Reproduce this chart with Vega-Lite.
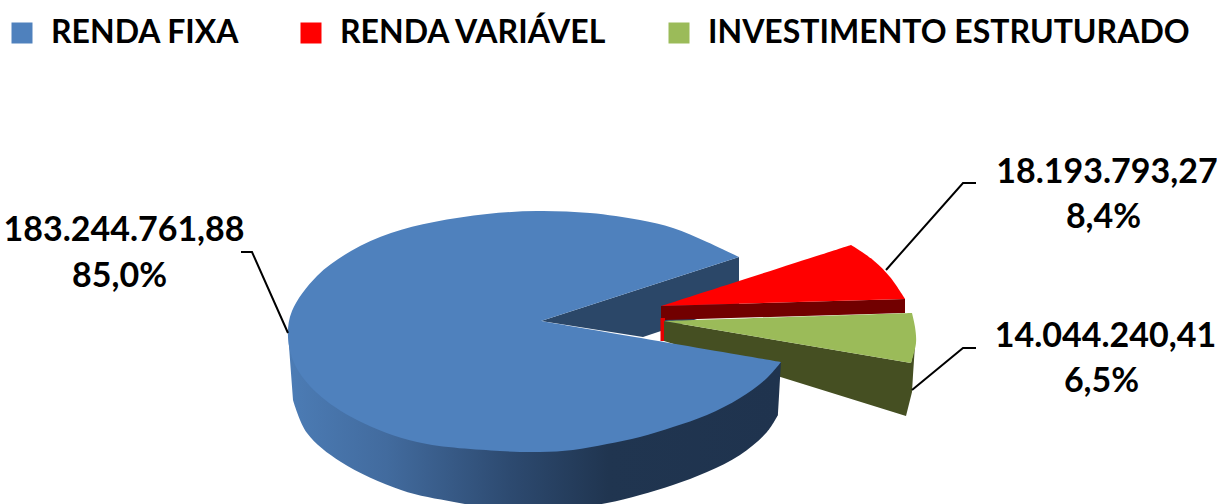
{"$schema":"https://vega.github.io/schema/vega-lite/v6.json","width":1217,"height":504,"padding":0,"autosize":{"type":"none"},"background":"white","config":{"view":{"stroke":null},"font":"Lato"},
"datasets":{"formas":[
{"forma":"cunha","p":1,"x":541,"y":321},{"forma":"cunha","p":2,"x":739,"y":257},{"forma":"cunha","p":3,"x":739,"y":305},{"forma":"cunha","p":4,"x":643,"y":337},
{"forma":"lado_var","p":1,"x":661,"y":306},{"forma":"lado_var","p":2,"x":905,"y":299},{"forma":"lado_var","p":3,"x":905,"y":313},{"forma":"lado_var","p":4,"x":665,"y":320},{"forma":"lado_var","p":5,"x":661,"y":320},
{"forma":"fresta_var","p":1,"x":660.5,"y":318},{"forma":"fresta_var","p":2,"x":665,"y":318},{"forma":"fresta_var","p":3,"x":665,"y":341},{"forma":"fresta_var","p":4,"x":660.5,"y":341},
{"forma":"topo_var","serie":"RENDA VARIÁVEL","p":1,"x":661,"y":306},{"forma":"topo_var","serie":"RENDA VARIÁVEL","p":2,"x":661,"y":306},{"forma":"topo_var","serie":"RENDA VARIÁVEL","p":3,"x":851,"y":245},{"forma":"topo_var","serie":"RENDA VARIÁVEL","p":4,"x":851,"y":245},{"forma":"topo_var","serie":"RENDA VARIÁVEL","p":5,"x":873,"y":260},{"forma":"topo_var","serie":"RENDA VARIÁVEL","p":6,"x":890,"y":277},{"forma":"topo_var","serie":"RENDA VARIÁVEL","p":7,"x":905,"y":299},{"forma":"topo_var","serie":"RENDA VARIÁVEL","p":8,"x":905,"y":299},
{"forma":"lado_est","p":1,"x":664,"y":321},{"forma":"lado_est","p":2,"x":911,"y":363},{"forma":"lado_est","p":3,"x":915,"y":345},{"forma":"lado_est","p":4,"x":913,"y":375},{"forma":"lado_est","p":5,"x":912,"y":392},{"forma":"lado_est","p":6,"x":906,"y":416},{"forma":"lado_est","p":7,"x":664,"y":341},
{"forma":"topo_est","serie":"INVESTIMENTO ESTRUTURADO","p":1,"x":664,"y":321},{"forma":"topo_est","serie":"INVESTIMENTO ESTRUTURADO","p":2,"x":664,"y":321},{"forma":"topo_est","serie":"INVESTIMENTO ESTRUTURADO","p":3,"x":912,"y":313},{"forma":"topo_est","serie":"INVESTIMENTO ESTRUTURADO","p":4,"x":912,"y":313},{"forma":"topo_est","serie":"INVESTIMENTO ESTRUTURADO","p":5,"x":915,"y":327},{"forma":"topo_est","serie":"INVESTIMENTO ESTRUTURADO","p":6,"x":916,"y":343},{"forma":"topo_est","serie":"INVESTIMENTO ESTRUTURADO","p":7,"x":911,"y":363},{"forma":"topo_est","serie":"INVESTIMENTO ESTRUTURADO","p":8,"x":911,"y":363},
{"forma":"lado_fixa","p":1,"x":288,"y":333},{"forma":"lado_fixa","p":2,"x":288,"y":333},{"forma":"lado_fixa","p":3,"x":781,"y":362},{"forma":"lado_fixa","p":4,"x":781,"y":362},{"forma":"lado_fixa","p":5,"x":778,"y":415},{"forma":"lado_fixa","p":6,"x":778,"y":415},{"forma":"lado_fixa","p":7,"x":767,"y":432},{"forma":"lado_fixa","p":8,"x":740,"y":455},{"forma":"lado_fixa","p":9,"x":707,"y":472},{"forma":"lado_fixa","p":10,"x":673,"y":485},{"forma":"lado_fixa","p":11,"x":640,"y":495},{"forma":"lado_fixa","p":12,"x":607,"y":503},{"forma":"lado_fixa","p":13,"x":550,"y":511},{"forma":"lado_fixa","p":14,"x":500,"y":509},{"forma":"lado_fixa","p":15,"x":454,"y":502},{"forma":"lado_fixa","p":16,"x":401,"y":490},{"forma":"lado_fixa","p":18,"x":341,"y":462},{"forma":"lado_fixa","p":20,"x":307,"y":433},{"forma":"lado_fixa","p":22,"x":293,"y":400},{"forma":"lado_fixa","p":23,"x":293,"y":400},
{"forma":"topo_fixa","serie":"RENDA FIXA","p":1,"x":541,"y":321},{"forma":"topo_fixa","serie":"RENDA FIXA","p":2,"x":541,"y":321},{"forma":"topo_fixa","serie":"RENDA FIXA","p":3,"x":781,"y":362},{"forma":"topo_fixa","serie":"RENDA FIXA","p":4,"x":781,"y":362},{"forma":"topo_fixa","serie":"RENDA FIXA","p":5,"x":767,"y":378},{"forma":"topo_fixa","serie":"RENDA FIXA","p":6,"x":740,"y":398},{"forma":"topo_fixa","serie":"RENDA FIXA","p":7,"x":707,"y":415},{"forma":"topo_fixa","serie":"RENDA FIXA","p":8,"x":673,"y":427},{"forma":"topo_fixa","serie":"RENDA FIXA","p":9,"x":640,"y":437},{"forma":"topo_fixa","serie":"RENDA FIXA","p":10,"x":607,"y":444},{"forma":"topo_fixa","serie":"RENDA FIXA","p":11,"x":573,"y":450},{"forma":"topo_fixa","serie":"RENDA FIXA","p":12,"x":540,"y":452},{"forma":"topo_fixa","serie":"RENDA FIXA","p":13,"x":500,"y":451},{"forma":"topo_fixa","serie":"RENDA FIXA","p":15,"x":417,"y":442},{"forma":"topo_fixa","serie":"RENDA FIXA","p":17,"x":357,"y":420},{"forma":"topo_fixa","serie":"RENDA FIXA","p":19,"x":317,"y":393},{"forma":"topo_fixa","serie":"RENDA FIXA","p":21,"x":295,"y":365},{"forma":"topo_fixa","serie":"RENDA FIXA","p":22,"x":288,"y":337},{"forma":"topo_fixa","serie":"RENDA FIXA","p":23,"x":292,"y":311},{"forma":"topo_fixa","serie":"RENDA FIXA","p":25,"x":317,"y":276},{"forma":"topo_fixa","serie":"RENDA FIXA","p":27,"x":351,"y":251},{"forma":"topo_fixa","serie":"RENDA FIXA","p":29,"x":391,"y":233},{"forma":"topo_fixa","serie":"RENDA FIXA","p":31,"x":434,"y":222},{"forma":"topo_fixa","serie":"RENDA FIXA","p":32,"x":487,"y":214},{"forma":"topo_fixa","serie":"RENDA FIXA","p":33,"x":537,"y":211},{"forma":"topo_fixa","serie":"RENDA FIXA","p":34,"x":590,"y":213},{"forma":"topo_fixa","serie":"RENDA FIXA","p":35,"x":640,"y":220},{"forma":"topo_fixa","serie":"RENDA FIXA","p":36,"x":673,"y":228},{"forma":"topo_fixa","serie":"RENDA FIXA","p":37,"x":707,"y":242},{"forma":"topo_fixa","serie":"RENDA FIXA","p":38,"x":739,"y":257},{"forma":"topo_fixa","serie":"RENDA FIXA","p":39,"x":739,"y":257}
],
"guias":[
{"serie":"RENDA FIXA","p":1,"x":241,"y":252},{"serie":"RENDA FIXA","p":2,"x":252,"y":252},{"serie":"RENDA FIXA","p":3,"x":288,"y":333},
{"serie":"RENDA VARIÁVEL","p":1,"x":976,"y":183},{"serie":"RENDA VARIÁVEL","p":2,"x":963,"y":183},{"serie":"RENDA VARIÁVEL","p":3,"x":886,"y":270},
{"serie":"INVESTIMENTO ESTRUTURADO","p":1,"x":976,"y":348},{"serie":"INVESTIMENTO ESTRUTURADO","p":2,"x":963,"y":348},{"serie":"INVESTIMENTO ESTRUTURADO","p":3,"x":912,"y":390}
],
"rotulos":[
{"serie":"RENDA FIXA","texto":"183.244.761,88","x":124,"y":231},{"serie":"RENDA FIXA","texto":"85,0%","x":119.5,"y":277},
{"serie":"RENDA VARIÁVEL","texto":"18.193.793,27","x":1107,"y":173},{"serie":"RENDA VARIÁVEL","texto":"8,4%","x":1103.5,"y":218},
{"serie":"INVESTIMENTO ESTRUTURADO","texto":"14.044.240,41","x":1105.5,"y":337},{"serie":"INVESTIMENTO ESTRUTURADO","texto":"6,5%","x":1101.5,"y":382}
]},
"encoding":{"x":{"field":"x","type":"quantitative","axis":null,"scale":{"domain":[0,1217],"nice":false,"zero":false}},"y":{"field":"y","type":"quantitative","axis":null,"scale":{"domain":[504,0],"nice":false,"zero":false}},"order":{"field":"p","type":"quantitative"}},
"layer":[
{"data":{"name":"formas"},"transform":[{"filter":"datum.forma==='cunha'"}],"mark":{"type":"line","fill":"#2b4768","strokeWidth":0}},
{"data":{"name":"formas"},"transform":[{"filter":"datum.forma==='lado_var'"}],"mark":{"type":"line","fill":"#720000","strokeWidth":0}},
{"data":{"name":"formas"},"transform":[{"filter":"datum.forma==='fresta_var'"}],"mark":{"type":"line","fill":"#e60000","strokeWidth":0}},
{"data":{"name":"formas"},"transform":[{"filter":"datum.forma==='topo_var'"}],"mark":{"type":"line","strokeWidth":0,"interpolate":"catmull-rom"},"encoding":{"fill":{"field":"serie","type":"nominal","scale":{"domain":["RENDA FIXA","RENDA VARIÁVEL","INVESTIMENTO ESTRUTURADO"],"range":["#4f81bd","#ff0000","#9bbb59"]},"legend":{"title":null,"orient":"none","legendX":6,"legendY":17,"direction":"horizontal","columns":3,"columnPadding":55,"symbolType":"square","symbolSize":441,"symbolStrokeWidth":0,"symbolOpacity":1,"labelFontSize":32,"labelFont":"Lato","labelFontWeight":"bold","labelColor":"#000000","labelOffset":13,"labelLimit":600,"padding":0}}}},
{"data":{"name":"formas"},"transform":[{"filter":"datum.forma==='lado_est'"}],"mark":{"type":"line","fill":"#454f22","strokeWidth":0}},
{"data":{"name":"formas"},"transform":[{"filter":"datum.forma==='topo_est'"}],"mark":{"type":"line","strokeWidth":0,"interpolate":"catmull-rom"},"encoding":{"fill":{"field":"serie","type":"nominal"}}},
{"data":{"name":"formas"},"transform":[{"filter":"datum.forma==='lado_fixa'"}],"mark":{"type":"line","strokeWidth":0,"interpolate":"catmull-rom","fill":{"gradient":"linear","x1":0,"y1":0,"x2":1,"y2":0,"stops":[{"offset":0,"color":"#4c7cb5"},{"offset":0.2,"color":"#426b9e"},{"offset":0.45,"color":"#2d4a70"},{"offset":0.65,"color":"#203550"},{"offset":1,"color":"#1f334e"}]}}},
{"data":{"name":"formas"},"transform":[{"filter":"datum.forma==='topo_fixa'"}],"mark":{"type":"line","strokeWidth":0,"interpolate":"catmull-rom"},"encoding":{"fill":{"field":"serie","type":"nominal"}}},
{"data":{"name":"guias"},"mark":{"type":"line","stroke":"#000000","strokeWidth":2},"encoding":{"detail":{"field":"serie"}}},
{"data":{"name":"rotulos"},"mark":{"type":"text","fontSize":34,"fontWeight":"bold","font":"Lato","color":"#000000","align":"center","baseline":"middle"},"encoding":{"text":{"field":"texto","type":"nominal"},"order":null}}
]}
